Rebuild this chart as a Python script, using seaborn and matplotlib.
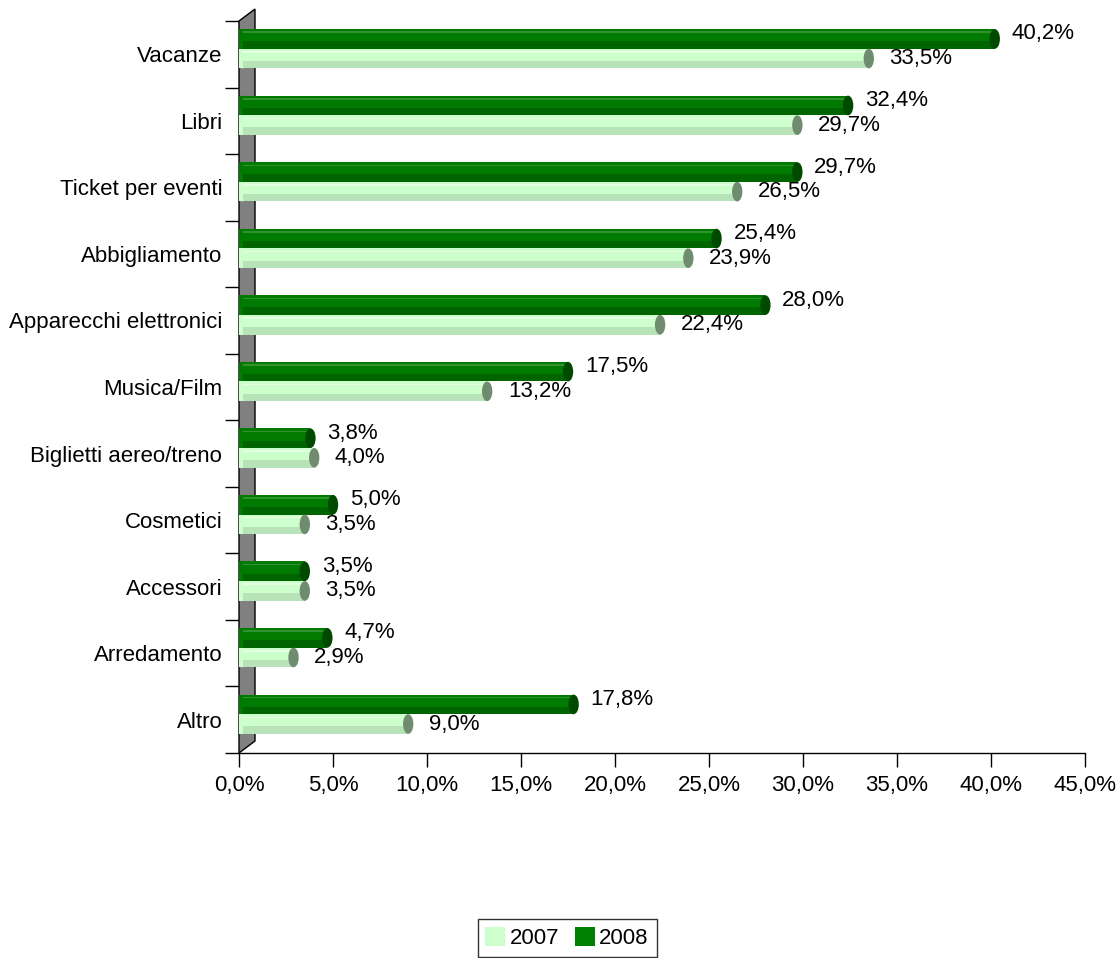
import numpy as np
import pandas as pd
import matplotlib.pyplot as plt
import seaborn as sns
from matplotlib.patches import Polygon, Rectangle, Ellipse, Patch
from matplotlib.ticker import FuncFormatter

# data
categories = ['Vacanze', 'Libri', 'Ticket per eventi', 'Abbigliamento',
              'Apparecchi elettronici', 'Musica/Film', 'Biglietti aereo/treno',
              'Cosmetici', 'Accessori', 'Arredamento', 'Altro']
values_2007 = [33.5, 29.7, 26.5, 23.9, 22.4, 13.2, 4.0, 3.5, 3.5, 2.9, 9.0]
values_2008 = [40.2, 32.4, 29.7, 25.4, 28.0, 17.5, 3.8, 5.0, 3.5, 4.7, 17.8]
x_ticks = [0, 5, 10, 15, 20, 25, 30, 35, 40, 45]

df = pd.DataFrame({
    'Categoria': categories * 2,
    'Anno': ['2008'] * len(categories) + ['2007'] * len(categories),
    'Valore': values_2008 + values_2007,
})

light = '#ccffcc'
dark = '#007a00'
style = {
    '2008': dict(shade='#006400', hi='#2f932f', cap='#004a00', dx=0.9, dy=-0.075),
    '2007': dict(shade='#b8e2b8', hi='#e2ffe2', cap='#6f8c6f', dx=1.1, dy=0.0),
}

sns.set_style('white')
plt.rcParams['font.family'] = ['Liberation Sans', 'DejaVu Sans']
plt.rcParams['text.color'] = 'black'
plt.rcParams['xtick.color'] = 'black'
plt.rcParams['ytick.color'] = 'black'
FS = 16

fig = plt.figure(figsize=(11.19, 9.58), dpi=100)
ax = fig.add_axes([239 / 1119, 1 - 753 / 958, 846 / 1119, 732 / 958])

sns.barplot(data=df, x='Valore', y='Categoria', hue='Anno',
            order=categories, hue_order=['2008', '2007'],
            palette={'2008': dark, '2007': light}, saturation=1,
            width=0.59, orient='h', legend=False, ax=ax, zorder=2)

ax.set_xlim(0, 45)
ax.set_ylim(len(categories) - 0.5, -0.5)

# grey 3D wall on the left
wdx, wdy = 16 / 846, 12 / 732
wall = Polygon([(0, 1), (wdx, 1 + wdy), (wdx, wdy), (0, 0)], closed=True,
               transform=ax.transAxes, clip_on=False, facecolor='#808080',
               edgecolor='black', lw=1, zorder=1)
ax.add_patch(wall)

# cylinder-ish shading, caps and labels
for cont, year in zip(ax.containers, ['2008', '2007']):
    st = style[year]
    for bar in cont:
        bar.set_y(bar.get_y() - 0.083)
        bar.set_edgecolor('none')
        y0, h, w = bar.get_y(), bar.get_height(), bar.get_width()
        ax.add_patch(Ellipse((0.2, y0 + h / 2), 0.45, h,
                             facecolor=bar.get_facecolor(), edgecolor='none', zorder=1.9))
        ax.add_patch(Rectangle((0.2, y0 + h * 0.62), w - 0.2, h * 0.38,
                               facecolor=st['shade'], edgecolor='none', zorder=2.1))
        ax.add_patch(Rectangle((0.2, y0 + h * 0.12), w - 0.2, h * 0.08,
                               facecolor=st['hi'], edgecolor='none', zorder=2.1))
        ax.add_patch(Ellipse((w, y0 + h / 2), 0.55, h,
                             facecolor=st['cap'], edgecolor='none', zorder=2.3))
        txt = f'{w:.1f}%'.replace('.', ',')
        ax.text(w + st['dx'], y0 + h / 2 + st['dy'], txt, ha='left', va='center',
                fontsize=FS, color='black', zorder=3)

# axes styling
for s in ['top', 'right', 'left']:
    ax.spines[s].set_visible(False)
ax.spines['bottom'].set_color('black')
ax.spines['bottom'].set_linewidth(1)

ax.set_xticks(x_ticks)
ax.xaxis.set_major_formatter(FuncFormatter(lambda v, _: f'{v:.1f}%'.replace('.', ',')))
ax.tick_params(axis='x', bottom=True, length=10, width=1, color='black',
               direction='out', labelsize=FS, labelcolor='black', pad=6)

ax.set_yticks(range(len(categories)))
ax.set_yticklabels(categories)
ax.set_yticks(np.arange(-0.5, len(categories), 1), minor=True)
ax.tick_params(axis='y', which='major', left=False, length=0, labelsize=FS,
               labelcolor='black', pad=12)
ax.tick_params(axis='y', which='minor', left=True, length=10, width=1,
               color='black', direction='out')
ax.set_xlabel('')
ax.set_ylabel('')
ax.grid(False)

handles = [Patch(facecolor=light, edgecolor='none', label='2007'),
           Patch(facecolor='#008000', edgecolor='none', label='2008')]
leg = fig.legend(handles=handles, loc='center', bbox_to_anchor=(567 / 1119, 1 - 938 / 958),
                 ncol=2, frameon=True, fancybox=False, fontsize=FS,
                 handlelength=0.9, handleheight=0.9, handletextpad=0.2,
                 columnspacing=0.7, borderpad=0.35)
leg.get_frame().set_edgecolor('black')
leg.get_frame().set_linewidth(1)
for t in leg.get_texts():
    t.set_color('black')

fig.savefig('out.png', dpi=100, facecolor='white')
